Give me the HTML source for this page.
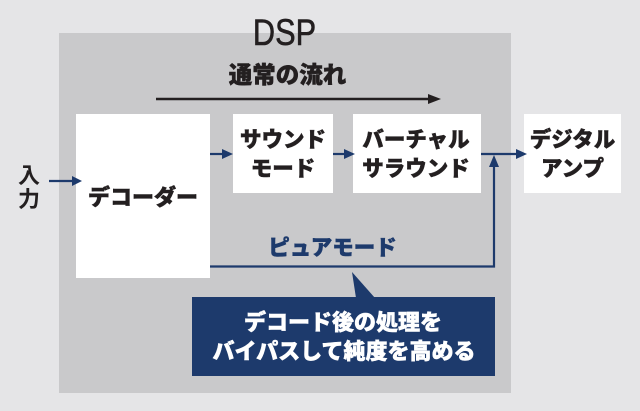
<!DOCTYPE html>
<html>
<head>
<meta charset="utf-8">
<style>
  html, body { margin:0; padding:0; background:#e5e5e7; }
  svg { display:block; }
  .jp { font-family: "Liberation Sans", "Noto Sans CJK JP", sans-serif; font-weight:900; stroke-width:0.5; }
</style>
</head>
<body>
<svg width="640" height="411" viewBox="0 0 640 411" xmlns="http://www.w3.org/2000/svg">
  <rect x="0" y="0" width="640" height="411" fill="#e5e5e7"/>
  <!-- DSP box -->
  <rect x="59" y="33" width="452" height="360" fill="#c9c9cb"/>
  <!-- DSP label -->
  <text x="0" y="0" transform="translate(284.5,45) scale(0.83,1)" text-anchor="middle" font-family="Liberation Sans, sans-serif" font-size="37" fill="#231f20" stroke="#231f20" stroke-width="0.6">DSP</text>

  <!-- normal flow -->
  <text class="jp" x="287.5" y="83" text-anchor="middle" font-size="23.5" fill="#231f20" stroke="#231f20">通常の流れ</text>
  <line x1="156" y1="99" x2="431" y2="99" stroke="#231f20" stroke-width="2.5"/>
  <polygon points="428,94 441,99 428,104" fill="#231f20"/>

  <!-- white boxes -->
  <rect x="76" y="114" width="134" height="164" fill="#ffffff"/>
  <rect x="233" y="114" width="100" height="79" fill="#ffffff"/>
  <rect x="353" y="114" width="128" height="79" fill="#ffffff"/>
  <rect x="524" y="114" width="97" height="79" fill="#ffffff"/>

  <!-- box labels -->
  <text class="jp" x="143" y="205" text-anchor="middle" font-size="22" fill="#231f20" stroke="#231f20">デコーダー</text>
  <text class="jp" x="283" y="147" text-anchor="middle" font-size="21.5" fill="#231f20" stroke="#231f20">サウンド</text>
  <text class="jp" x="283" y="176" text-anchor="middle" font-size="21.5" fill="#231f20" stroke="#231f20">モード</text>
  <text class="jp" x="416" y="147" text-anchor="middle" font-size="21.5" fill="#231f20" stroke="#231f20">バーチャル</text>
  <text class="jp" x="416" y="176" text-anchor="middle" font-size="21.5" fill="#231f20" stroke="#231f20">サラウンド</text>
  <text class="jp" x="572.5" y="147" text-anchor="middle" font-size="21.5" fill="#231f20" stroke="#231f20">デジタル</text>
  <text class="jp" x="572.5" y="176" text-anchor="middle" font-size="21.5" fill="#231f20" stroke="#231f20">アンプ</text>

  <!-- input -->
  <text x="29" y="183" text-anchor="middle" font-family="Liberation Sans, Noto Sans CJK JP, sans-serif" font-weight="700" font-size="22" fill="#231f20">入</text>
  <text x="29" y="207" text-anchor="middle" font-family="Liberation Sans, Noto Sans CJK JP, sans-serif" font-weight="700" font-size="22" fill="#231f20">力</text>
  <line x1="49" y1="181" x2="74" y2="181" stroke="#1d3a6c" stroke-width="2.2"/>
  <polygon points="72,176 82,181 72,186" fill="#1d3a6c"/>

  <!-- flow arrows -->
  <line x1="210" y1="154" x2="224" y2="154" stroke="#1d3a6c" stroke-width="2.2"/>
  <polygon points="222,149 233,154 222,159" fill="#1d3a6c"/>
  <line x1="333" y1="154" x2="346" y2="154" stroke="#1d3a6c" stroke-width="2.2"/>
  <polygon points="344,149 355,154 344,159" fill="#1d3a6c"/>
  <line x1="481" y1="154" x2="518" y2="154" stroke="#1d3a6c" stroke-width="2.2"/>
  <polygon points="516,149 527,154 516,159" fill="#1d3a6c"/>

  <!-- pure mode path -->
  <polyline points="210,266.5 494,266.5 494,165" fill="none" stroke="#1d3a6c" stroke-width="2.2"/>
  <polygon points="489,167 494,155 499,167" fill="#1d3a6c"/>
  <text class="jp" x="332.5" y="255" text-anchor="middle" font-size="21.5" fill="#1d3a6c" stroke="#1d3a6c">ピュアモード</text>

  <!-- callout -->
  <polygon points="352,272 356,298 375,298" fill="#1d3a6c"/>
  <rect x="192" y="297" width="303" height="79" fill="#1d3a6c"/>
  <text class="jp" x="343" y="330" text-anchor="middle" font-size="22" fill="#ffffff" stroke="#ffffff">デコード後の処理を</text>
  <text class="jp" x="344" y="359" text-anchor="middle" font-size="22" fill="#ffffff" stroke="#ffffff">バイパスして純度を高める</text>
</svg>
</body>
</html>
